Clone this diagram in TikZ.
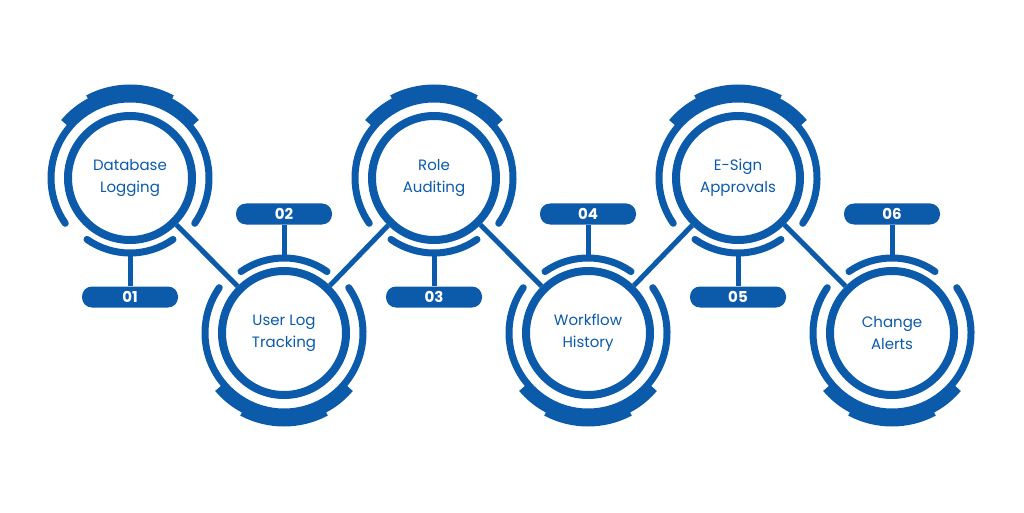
\documentclass[tikz,border=0pt]{standalone}
\usepackage{fontspec}
\setmainfont{Poppins}
\definecolor{navy}{HTML}{0B5BAA}
\tikzset{
  ring/.style={navy,line width=7pt,line cap=round},
  hub/.style={circle,draw=navy,line width=8pt,minimum size=124pt,inner sep=0pt,
    align=center,text=navy,font=\fontsize{15}{22}\selectfont},
  pill/.style={rounded corners=10pt,fill=navy,text=white,minimum width=96pt,
    minimum height=21pt,inner sep=0pt,font=\fontsize{15}{16}\selectfont\bfseries},
  link/.style={navy,line width=5pt},
}
\begin{document}
\begin{tikzpicture}[x=1pt,y=1pt]
  \useasboundingbox[fill=white] (0,0) rectangle (1024,512);
  \foreach \i/\x/\y/\s/\txt in {1/130/334/1/{Database\\Logging},
      2/284/179/-1/{User Log\\Tracking},3/434/334/1/{Role\\Auditing},
      4/588/179/-1/{Workflow\\History},5/738/334/1/{E-Sign\\Approvals},
      6/892/179/-1/{Change\\Alerts}}
  {
    \begin{scope}[shift={(\x,\y)},yscale=\s]
      \draw[ring] (-35:79) arc[start angle=-35,end angle=215,radius=79];
      \draw[navy,line width=12pt] (40:84) arc[start angle=40,end angle=140,radius=84];
      \draw[navy,line width=9pt] (62:89) arc[start angle=62,end angle=118,radius=89];
      \draw[ring] (235:75) arc[start angle=235,end angle=305,radius=75];
      \coordinate (s\i) at (0,-77);
      \coordinate (q\i) at (0,-119);
    \end{scope}
    \node[hub] (c\i) at (\x,\y) {\txt};
    \node[pill] (p\i) at (q\i) {0\i};
    \draw[link] (s\i) -- (p\i);
  }
  \foreach \a/\b in {1/2,2/3,3/4,4/5,5/6}
    \draw[link] (c\a) -- (c\b);
\end{tikzpicture}
\end{document}
